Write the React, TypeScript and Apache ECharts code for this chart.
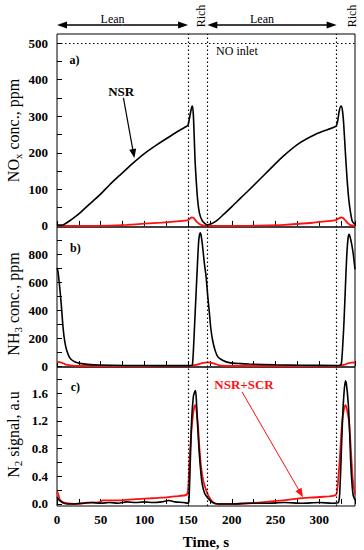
import React, { useEffect, useRef } from "react";
import * as echarts from "echarts";

// ---------- data (time in s) ----------
const noxNsr: number[][] = [
  [0, 2], [5, 2], [8, 4], [12, 10], [18, 20], [26, 35], [35, 55], [49, 85], [60, 112], [72, 139],
  [87, 172], [100, 198], [115, 223], [130, 246], [140, 261], [148, 272], [150, 276], [152, 300],
  [154, 324], [155, 328], [156, 305], [157, 245], [158, 178], [159.5, 117], [161, 70], [163, 35],
  [166, 15], [169, 7], [172, 3], [176, 5], [182, 13], [190, 30], [201, 55], [210, 76], [220, 99],
  [239, 144], [258, 189], [277, 226], [296, 251], [310, 264], [319, 272], [321, 285], [323, 315],
  [325, 328], [326.5, 318], [328, 281], [330, 200], [332, 126], [334, 70], [336, 35], [338, 12], [341, 4],
];
const noxScr: number[][] = [
  [0, 0], [30, 0], [60, 1], [80, 3], [100, 6], [120, 9], [140, 13], [150, 16], [152, 20], [154, 23],
  [156, 22], [158, 17], [160, 11], [163, 5], [166, 2], [170, 0], [200, 0], [230, 1], [260, 3],
  [290, 8], [310, 13], [319, 16], [322, 20], [325, 23], [327, 22], [330, 15], [333, 7], [336, 2], [341, 0],
];
const nh3Nsr: number[][] = [
  [0, 700], [1, 680], [3, 570], [5, 430], [7, 270], [9, 170], [11, 114], [14, 65], [17, 43], [21, 28],
  [26, 19], [35, 12], [49, 7], [80, 4], [120, 3], [150, 3], [154, 4], [155, 10], [156, 100], [157.5, 300],
  [159, 500], [160.5, 700], [162, 880], [163, 935], [164, 952], [165, 930], [166.5, 860], [168.5, 740],
  [170.6, 638], [172.5, 500], [174.4, 378], [176, 270], [178, 186], [181, 110], [184, 67], [190, 40],
  [197, 24], [210, 17], [220, 14], [250, 9], [280, 6], [320, 4], [324, 6], [325.5, 20], [327, 150],
  [328.5, 330], [330, 560], [331.5, 780], [333, 910], [334.2, 940], [335.5, 920], [337.5, 860], [339, 800], [341, 690],
];
const nh3Scr: number[][] = [
  [0, 30], [3, 28], [6, 22], [9, 14], [12, 8], [15, 4], [20, 1], [30, 0], [150, 0], [155, 3], [160, 10],
  [165, 19], [170, 25], [173, 26], [177, 23], [181, 15], [185, 7], [190, 2], [197, 0], [322, 0],
  [326, 4], [330, 12], [334, 20], [337, 24], [341, 25],
];
const n2Nsr: number[][] = [
  [0, 0.1], [2, 0.06], [5, 0.03], [8, 0.01], [12, 0], [20, 0], [30, 0.01], [40, 0.02], [50, 0.01],
  [60, 0.02], [70, 0.01], [80, 0.03], [90, 0.02], [100, 0.03], [110, 0.02], [120, 0.03], [128, 0.05],
  [135, 0.03], [145, 0.02], [150, 0.01], [151, 0.05], [152.5, 0.6], [154, 1.2], [156, 1.55], [157.5, 1.62],
  [158.5, 1.64], [159.5, 1.5], [161, 1.11], [162.5, 0.8], [164, 0.54], [166, 0.3], [169, 0.15], [173, 0.08],
  [178, 0.02], [185, 0], [200, 0], [220, 0.01], [240, 0.01], [260, 0.02], [280, 0.01], [300, 0.02],
  [315, 0.01], [322, 0.02], [324, 0.3], [325.7, 0.87], [327, 1.3], [328.4, 1.6], [330, 1.78], [331, 1.75],
  [333.3, 1.45], [335, 1.0], [336, 0.63], [337.5, 0.3], [339, 0.12], [341, 0.06],
];
const n2Scr: number[][] = [
  [0, 0.18], [1.5, 0.14], [3, 0.07], [6, 0.03], [11, 0.01], [20, 0], [30, 0.01], [35, 0.02], [45, 0.02],
  [50, 0.03], [52, 0.05], [70, 0.05], [90, 0.07], [106, 0.08], [120, 0.09], [135, 0.11], [148, 0.13],
  [150, 0.2], [151.5, 0.6], [153.5, 1.0], [155.5, 1.28], [157.5, 1.42], [158.5, 1.43], [160, 1.3],
  [161.5, 1.1], [163, 0.8], [165, 0.52], [167.5, 0.33], [170.6, 0.2], [174, 0.1], [178, 0.03], [182, 0],
  [200, 0], [220, 0.01], [240, 0.03], [258, 0.05], [277, 0.08], [300, 0.1], [319, 0.13], [321, 0.25],
  [323.5, 0.63], [325, 0.95], [326.5, 1.21], [328.5, 1.38], [330.3, 1.43], [332, 1.35], [334, 1.21],
  [335.5, 0.95], [337, 0.63], [338.5, 0.35], [341, 0.14],
];

const phaseLines = [150, 172, 320];
const leanPhases = [[0, 150], [172, 320]];
const richPhases = [165, 338];
const noInlet = 500;

const noxLabels = [0, 100, 200, 300, 400, 500];
const nh3Labels = [0, 200, 400, 600, 800];
const n2Labels = [0, 0.4, 0.8, 1.2, 1.6];
const noxTicks = [0, 50, 100, 150, 200, 250, 300, 350, 400, 450, 500];
const nh3Ticks = [0, 100, 200, 300, 400, 500, 600, 700, 800, 900];
const n2Ticks = [0, 0.2, 0.4, 0.6, 0.8, 1.0, 1.2, 1.4, 1.6, 1.8];

const SERIF = "'Liberation Serif', 'DejaVu Serif', serif";
const RED = "#ff1010";

export default function App() {
  const ref = useRef<HTMLDivElement>(null);
  useEffect(() => {
    if (!ref.current) return;
    const chart = echarts.init(ref.current, undefined, { renderer: "svg" });

    const gridL = 57;
    const gridW = 298;
    const grids = [
      { left: gridL, top: 34, width: gridW, height: 193 },
      { left: gridL, top: 227, width: gridW, height: 140 },
      { left: gridL, top: 367, width: gridW, height: 139 },
    ].map((g) => ({ ...g, show: true, borderColor: "#000", borderWidth: 1, backgroundColor: "transparent" }));

    const xAxes = [0, 1, 2].map((i) => ({
      type: "value",
      gridIndex: i,
      min: 0,
      max: 341,
      interval: 25,
      axisLine: { show: false },
      splitLine: { show: false },
      axisTick: { show: true, inside: true, length: 5, lineStyle: { color: "#000", width: 1 } },
      axisLabel: {
        show: i === 2,
        margin: 7,
        color: "#000",
        fontFamily: SERIF,
        fontWeight: "bold",
        fontSize: 13,
        formatter: (v: number) => (v % 50 === 0 ? String(v) : ""),
      },
      name: i === 2 ? "Time, s" : "",
      nameLocation: "middle",
      nameGap: 28,
      nameTextStyle: { color: "#000", fontFamily: SERIF, fontWeight: "bold", fontSize: 15 },
    }));

    const yBase = (i: number, min: number, max: number, ticks: number[], labels: number[], fmt: (v: number) => string) => ({
      type: "value",
      gridIndex: i,
      min,
      max,
      axisLine: { show: false },
      splitLine: { show: false },
      axisTick: { show: true, inside: true, length: 5, customValues: ticks, lineStyle: { color: "#000", width: 1 } },
      axisLabel: {
        show: true,
        customValues: labels,
        margin: 9,
        color: "#000",
        fontFamily: SERIF,
        fontWeight: "bold",
        fontSize: 13,
        formatter: fmt,
      },
    });

    const yAxes = [
      yBase(0, -3, 525, noxTicks, noxLabels, (v) => String(v)),
      yBase(1, -7, 993, nh3Ticks, nh3Labels, (v) => String(v)),
      yBase(2, -0.03, 1.98, n2Ticks, n2Labels, (v) => v.toFixed(1)),
    ];

    const dotted = { color: "#000", width: 1.2, type: [1.5, 2.5] as any };
    const phaseMark = (withInlet: boolean) => ({
      silent: true,
      symbol: ["none", "none"],
      label: { show: false },
      lineStyle: dotted,
      data: [
        ...phaseLines.map((t) => ({ xAxis: t })),
        ...(withInlet ? [{ yAxis: noInlet }] : []),
      ],
    });

    const line = (i: number, data: number[][], color: string, width: number, marks: any) => ({
      type: "line",
      xAxisIndex: i,
      yAxisIndex: i,
      data,
      showSymbol: false,
      symbol: "none",
      smooth: 0.25,
      lineStyle: { color, width },
      z: color === RED ? 3 : 4,
      markLine: marks,
    });

    chart.setOption({
      animation: false,
      grid: grids,
      xAxis: xAxes,
      yAxis: yAxes,
      series: [
        line(0, noxNsr, "#000", 1.6, phaseMark(true)),
        line(0, noxScr, RED, 1.8, undefined),
        line(1, nh3Nsr, "#000", 1.6, phaseMark(false)),
        line(1, nh3Scr, RED, 1.8, undefined),
        line(2, n2Nsr, "#000", 1.6, phaseMark(false)),
        line(2, n2Scr, RED, 1.8, undefined),
      ],
    });

    const px = (g: number, t: number, v: number) =>
      chart.convertToPixel({ gridIndex: g } as any, [t, v]) as number[];

    const arrow = (x1: number, y1: number, x2: number, y2: number, color: string, w: number, hl: number, hw: number) => {
      const dx = x2 - x1;
      const dy = y2 - y1;
      const len = Math.sqrt(dx * dx + dy * dy);
      const ux = dx / len;
      const uy = dy / len;
      const bx = x2 - ux * hl;
      const by = y2 - uy * hl;
      return [
        { type: "line", shape: { x1, y1, x2: bx + ux, y2: by + uy }, style: { stroke: color, lineWidth: w } },
        {
          type: "polygon",
          shape: { points: [[x2, y2], [bx - uy * hw, by + ux * hw], [bx + uy * hw, by - ux * hw]] },
          style: { fill: color },
        },
      ];
    };

    const gTop = px(0, 0, 525)[1];
    const els: any[] = [];
    // Lean arrows + labels
    leanPhases.forEach(([a, b]) => {
      const xa = px(0, a, 0)[0];
      const xb = px(0, b, 0)[0];
      const y = gTop - 9;
      els.push(...arrow((xa + xb) / 2, y, xa, y, "#000", 1.5, 10, 3.5));
      els.push(...arrow((xa + xb) / 2, y, xb, y, "#000", 1.5, 10, 3.5));
      els.push({
        type: "text",
        x: (xa + xb) / 2 - 10,
        y: gTop - 15,
        style: { text: "Lean", fill: "#000", font: `12px ${SERIF}`, align: "center", verticalAlign: "middle" },
      });
    });
    richPhases.forEach((t) => {
      els.push({
        type: "text",
        x: px(0, t, 0)[0],
        y: gTop - 18,
        rotation: Math.PI / 2,
        style: { text: "Rich", fill: "#000", font: `12px ${SERIF}`, align: "center", verticalAlign: "middle" },
      });
    });
    // NO inlet
    const ni = px(0, 182, 478);
    els.push({ type: "text", x: ni[0], y: ni[1], style: { text: "NO inlet", fill: "#000", font: `12px ${SERIF}`, align: "left", verticalAlign: "middle" } });
    // panel letters
    const pa = px(0, 20, 453);
    const pb = px(1, 21, 843);
    const pc = px(2, 21, 1.69);
    [[pa, "a)"], [pb, "b)"], [pc, "c)"]].forEach(([p, s]: any) => {
      els.push({ type: "text", x: p[0], y: p[1], style: { text: s, fill: "#000", font: `bold 12px ${SERIF}`, align: "center", verticalAlign: "middle" } });
    });
    // NSR label and arrow
    const nl = px(0, 73.5, 369);
    els.push({ type: "text", x: nl[0], y: nl[1], style: { text: "NSR", fill: "#000", font: `bold 13px ${SERIF}`, align: "center", verticalAlign: "middle" } });
    const ns = px(0, 76, 350);
    const nt = px(0, 88.5, 186);
    els.push(...arrow(ns[0], ns[1], nt[0], nt[1], "#000", 1.2, 9, 3.5));
    // NSR+SCR label and arrow
    const sl = px(2, 214, 1.73);
    els.push({ type: "text", x: sl[0], y: sl[1], style: { text: "NSR+SCR", fill: RED, font: `bold 13px ${SERIF}`, align: "center", verticalAlign: "middle" } });
    const ss = px(2, 211.7, 1.62);
    const st = px(2, 281.5, 0.097);
    els.push(...arrow(ss[0], ss[1], st[0], st[1], RED, 1, 9, 3.5));

    // y-axis titles
    const titleX = 13;
    const titles: [string, number][] = [
      ["{a|NO}{s|x}{a| conc., ppm}", (px(0, 0, 525)[1] + px(0, 0, -3)[1]) / 2],
      ["{a|NH}{s|3}{a| conc., ppm}", (px(1, 0, 993)[1] + px(1, 0, -7)[1]) / 2 + 7],
      ["{a|N}{s|2}{a| signal, a.u}", (px(2, 0, 1.98)[1] + px(2, 0, -0.03)[1]) / 2 - 2],
    ];
    titles.forEach(([text, y]) => {
      els.push({
        type: "text",
        x: titleX,
        y,
        rotation: Math.PI / 2,
        style: {
          text,
          align: "center",
          verticalAlign: "middle",
          rich: {
            a: { fontSize: 16, fontFamily: SERIF, fill: "#000", lineHeight: 20, verticalAlign: "middle" },
            s: { fontSize: 11, fontFamily: SERIF, fill: "#000", lineHeight: 11, verticalAlign: "bottom" },
          },
        },
      });
    });

    chart.setOption({ graphic: { elements: els } });

    return () => chart.dispose();
  }, []);

  return <div ref={ref} style={{ position: "absolute", left: 0, top: 0, width: 364, height: 550 }} />;
}
